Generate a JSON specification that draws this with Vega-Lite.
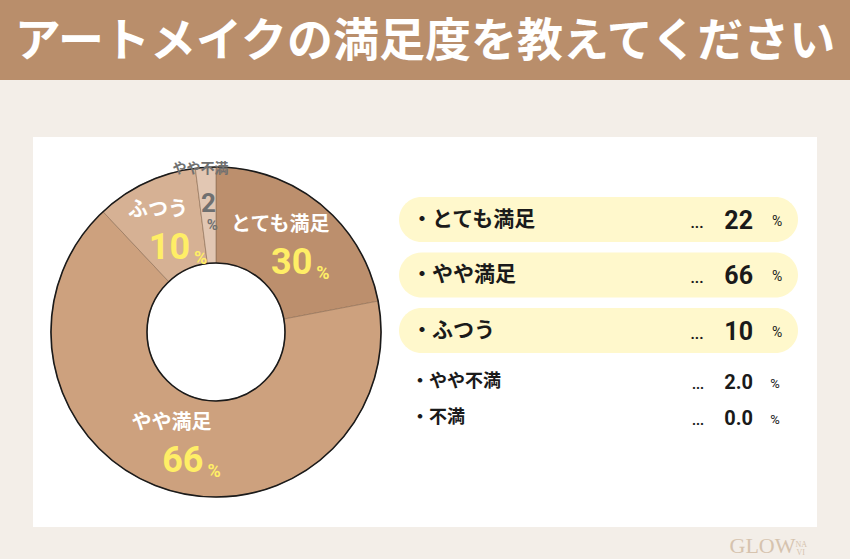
{
  "$schema": "https://vega.github.io/schema/vega-lite/v6.json",
  "background": "#F3EEE8",
  "padding": {"left": 0, "top": 0, "right": 0, "bottom": 2},
  "center": true,
  "spacing": 57,
  "datasets": {
    "survey": [
      {"cat": "とても満足", "rank": 1, "value": 22, "pie_label": "30"},
      {"cat": "やや満足", "rank": 2, "value": 66, "pie_label": "66"},
      {"cat": "ふつう", "rank": 3, "value": 10, "pie_label": "10"},
      {"cat": "やや不満", "rank": 4, "value": 2, "pie_label": "2"},
      {"cat": "不満", "rank": 5, "value": 0, "pie_label": "0"}
    ],
    "heading": [{"title": "アートメイクの満足度を教えてください", "brand": "GLOW", "brand_a": "NA", "brand_b": "VI"}]
  },
  "config": {"view": {"stroke": null}, "font": "Noto Sans CJK JP"},
  "vconcat": [
    {
      "width": 850,
      "height": 80,
      "view": {"fill": "#B98E6B", "stroke": null},
      "data": {"name": "heading"},
      "mark": {"type": "text", "font": "Noto Sans CJK JP", "fontWeight": "bold", "fontSize": 46, "color": "#FFFFFF", "baseline": "middle", "align": "center", "dy": 2},
      "encoding": {"text": {"field": "title", "type": "nominal"}}
    },
    {
      "spacing": 0,
      "bounds": "flush",
      "hconcat": [
        {
          "width": 366,
          "height": 390,
          "view": {"fill": "#FFFFFF", "stroke": null},
          "data": {"name": "survey"},
          "transform": [{"filter": "datum.value > 0"}],
          "layer": [
            {
              "mark": {"type": "arc", "outerRadius": 165, "innerRadius": 69, "stroke": "#8C6C52", "strokeWidth": 0.6},
              "encoding": {
                "theta": {"field": "value", "type": "quantitative", "stack": true},
                "order": {"field": "rank", "type": "quantitative"},
                "color": {"field": "cat", "type": "nominal", "legend": null,
                  "scale": {"domain": ["とても満足", "やや満足", "ふつう", "やや不満"], "range": ["#BC8F6D", "#CDA17E", "#D6B194", "#E2C7B3"]}}
              }
            },
            {
              "transform": [{"aggregate": [{"op": "sum", "field": "value", "as": "total"}]}],
              "mark": {"type": "arc", "outerRadius": 165, "innerRadius": 69, "fillOpacity": 0, "stroke": "#1A1A1A", "strokeWidth": 1.6},
              "encoding": {"theta": {"field": "total", "type": "quantitative"}}
            },
            {
              "mark": {"type": "text", "radius": 115, "dx": -9, "dy": -18, "fontSize": 20, "fontWeight": "bold", "font": "Noto Sans CJK JP", "color": "#FFFFFF", "align": "center", "baseline": "middle"},
              "encoding": {
                "theta": {"field": "value", "type": "quantitative", "stack": true},
                "order": {"field": "rank", "type": "quantitative"},
                "text": {"condition": {"test": "datum.cat === 'やや不満'", "value": ""}, "field": "cat", "type": "nominal"}
              }
            },
            {
              "mark": {"type": "text", "radius": 115, "dx": 23, "dy": 20, "fontSize": 36, "fontWeight": "bold", "font": "Roboto", "color": "#FFEE66", "align": "right", "baseline": "middle"},
              "encoding": {
                "theta": {"field": "value", "type": "quantitative", "stack": true},
                "order": {"field": "rank", "type": "quantitative"},
                "text": {"condition": {"test": "datum.cat === 'やや不満'", "value": ""}, "field": "pie_label", "type": "nominal"}
              }
            },
            {
              "mark": {"type": "text", "radius": 115, "dx": 27, "dy": 31, "fontSize": 18, "fontWeight": "bold", "font": "Roboto", "color": "#FFEE66", "align": "left", "baseline": "middle"},
              "encoding": {
                "theta": {"field": "value", "type": "quantitative", "stack": true},
                "order": {"field": "rank", "type": "quantitative"},
                "text": {"condition": {"test": "datum.cat !== 'やや不満'", "value": "%"}, "value": ""}
              }
            },
            {
              "mark": {"type": "text", "radius": 137, "dx": -7, "dy": -26, "fontSize": 14, "fontWeight": "bold", "font": "Noto Sans CJK JP", "color": "#707070", "align": "center", "baseline": "middle"},
              "encoding": {
                "theta": {"field": "value", "type": "quantitative", "stack": true},
                "order": {"field": "rank", "type": "quantitative"},
                "text": {"condition": {"test": "datum.cat !== 'やや不満'", "value": ""}, "field": "cat", "type": "nominal"}
              }
            },
            {
              "mark": {"type": "text", "radius": 137, "dx": 1, "dy": 9, "fontSize": 26, "fontWeight": "bold", "font": "Roboto", "color": "#707070", "align": "center", "baseline": "middle"},
              "encoding": {
                "theta": {"field": "value", "type": "quantitative", "stack": true},
                "order": {"field": "rank", "type": "quantitative"},
                "text": {"condition": {"test": "datum.cat !== 'やや不満'", "value": ""}, "field": "pie_label", "type": "nominal"}
              }
            },
            {
              "mark": {"type": "text", "radius": 137, "dx": 5, "dy": 30, "fontSize": 15, "fontWeight": "bold", "font": "Roboto", "color": "#707070", "align": "center", "baseline": "middle"},
              "encoding": {
                "theta": {"field": "value", "type": "quantitative", "stack": true},
                "order": {"field": "rank", "type": "quantitative"},
                "text": {"condition": {"test": "datum.cat === 'やや不満'", "value": "%"}, "value": ""}
              }
            }
          ]
        },
        {
          "width": 399,
          "height": 390,
          "view": {"fill": "#FFFFFF", "stroke": null},
          "data": {"name": "survey"},
          "layer": [
            {
              "transform": [{"filter": {"field": "cat", "oneOf": ["とても満足", "やや満足", "ふつう"]}}],
              "encoding": {
                "y": {"field": "cat", "type": "nominal", "axis": null,
                  "scale": {"type": "point", "domain": ["とても満足", "やや満足", "ふつう"], "range": [82.5, 193.5], "padding": 0}}
              },
              "layer": [
                {"mark": {"type": "rect", "height": 45, "cornerRadius": 22.5, "color": "#FFF8CC"}},
                {"mark": {"type": "text", "text": "・", "align": "center", "baseline": "middle", "dx": -176.5, "fontSize": 20, "fontWeight": "bold", "color": "#1A1A1A"}},
                {"mark": {"type": "text", "align": "left", "baseline": "middle", "dx": -166.5, "fontSize": 21, "fontWeight": "bold", "color": "#1A1A1A"},
                 "encoding": {"text": {"field": "cat", "type": "nominal"}}},
                {"mark": {"type": "text", "text": "...", "align": "center", "baseline": "middle", "dx": 98.5, "dy": 3, "fontSize": 15, "fontWeight": "bold", "font": "Roboto", "color": "#1A1A1A"}},
                {"mark": {"type": "text", "align": "right", "baseline": "middle", "dx": 154.5, "dy": 1, "fontSize": 25, "fontWeight": "bold", "font": "Roboto", "color": "#1A1A1A"},
                 "encoding": {"text": {"field": "value", "type": "quantitative", "format": "d"}}},
                {"mark": {"type": "text", "text": "%", "align": "center", "baseline": "middle", "dx": 178.5, "dy": 2, "fontSize": 14, "font": "Roboto", "color": "#1A1A1A"}}
              ]
            },
            {
              "transform": [{"filter": {"field": "cat", "oneOf": ["やや不満", "不満"]}}],
              "encoding": {
                "y": {"field": "cat", "type": "nominal", "axis": null,
                  "scale": {"type": "point", "domain": ["やや不満", "不満"], "range": [245, 281], "padding": 0}}
              },
              "layer": [
                {"mark": {"type": "text", "text": "・", "align": "center", "baseline": "middle", "dx": -178.5, "fontSize": 18, "fontWeight": "bold", "color": "#1A1A1A"}},
                {"mark": {"type": "text", "align": "left", "baseline": "middle", "dx": -169.5, "fontSize": 18, "fontWeight": "bold", "color": "#1A1A1A"},
                 "encoding": {"text": {"field": "cat", "type": "nominal"}}},
                {"mark": {"type": "text", "text": "...", "align": "center", "baseline": "middle", "dx": 99.5, "dy": 3, "fontSize": 14, "fontWeight": "bold", "font": "Roboto", "color": "#1A1A1A"}},
                {"mark": {"type": "text", "align": "right", "baseline": "middle", "dx": 154.5, "dy": 1, "fontSize": 20, "fontWeight": "bold", "font": "Roboto", "color": "#1A1A1A"},
                 "encoding": {"text": {"field": "value", "type": "quantitative", "format": ".1f"}}},
                {"mark": {"type": "text", "text": "%", "align": "center", "baseline": "middle", "dx": 176.5, "dy": 2, "fontSize": 13, "font": "Roboto", "color": "#1A1A1A"}}
              ]
            }
          ],
          "resolve": {"scale": {"y": "independent"}}
        },
        {
          "width": 19,
          "height": 390,
          "view": {"fill": "#FFFFFF", "stroke": null},
          "data": {"name": "heading"},
          "layer": [
            {"mark": {"type": "text", "align": "right", "baseline": "bottom", "dx": -12, "dy": 226, "fontSize": 22, "font": "Liberation Serif", "color": "#D6C3AE"},
             "encoding": {"text": {"field": "brand", "type": "nominal"}}},
            {"mark": {"type": "text", "align": "left", "baseline": "bottom", "dx": -12, "dy": 217, "fontSize": 8, "font": "Liberation Serif", "color": "#D6C3AE"},
             "encoding": {"text": {"field": "brand_a", "type": "nominal"}}},
            {"mark": {"type": "text", "align": "left", "baseline": "bottom", "dx": -11, "dy": 225, "fontSize": 8, "font": "Liberation Serif", "color": "#D6C3AE"},
             "encoding": {"text": {"field": "brand_b", "type": "nominal"}}}
          ]
        }
      ]
    }
  ]
}
